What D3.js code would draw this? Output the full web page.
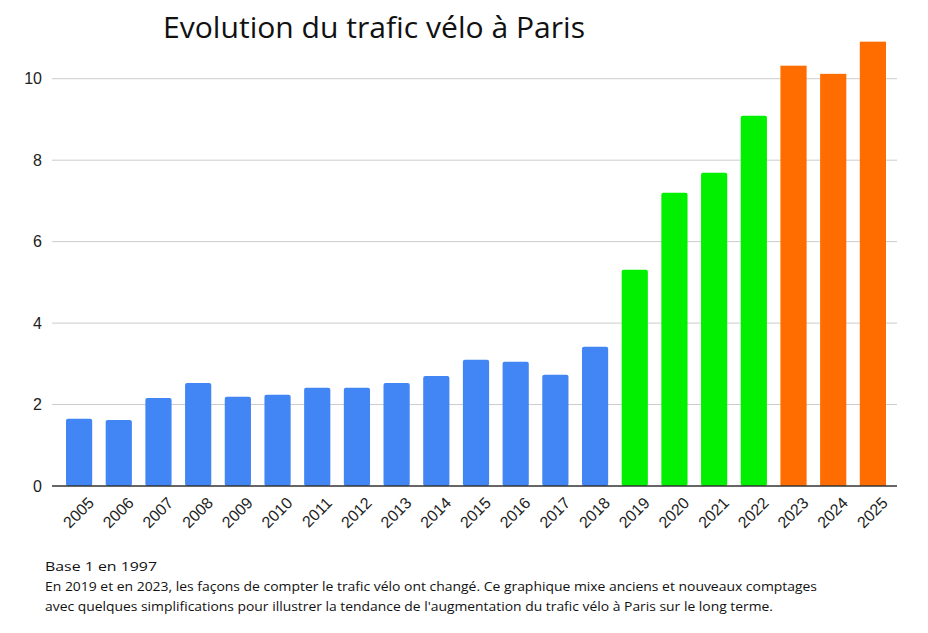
<!DOCTYPE html>
<html>
<head>
<meta charset="utf-8">
<script src="https://cdn.jsdelivr.net/npm/d3@7"></script>
<style>
    body { margin: 0; background: #fff; }
    svg { display: block; }
</style>
</head>
<body>
<svg id="chart"></svg>
<script>
const years = ["2005", "2006", "2007", "2008", "2009", "2010", "2011", "2012", "2013", "2014", "2015",
    "2016", "2017", "2018", "2019", "2020", "2021", "2022", "2023", "2024", "2025"];
const traffic = [1.65, 1.62, 2.16, 2.53, 2.19, 2.24, 2.41, 2.41, 2.53, 2.70, 3.10,
    3.05, 2.73, 3.42, 5.31, 7.20, 7.69, 9.09, 10.32, 10.12, 10.91];
// counting method: 0 = old, 1 = changed in 2019, 2 = changed in 2023
const method = [0, 0, 0, 0, 0, 0, 0, 0, 0, 0, 0, 0, 0, 0, 1, 1, 1, 1, 2, 2, 2];
const yTicks = [0, 2, 4, 6, 8, 10];
const colors = ["#4285f4", "#00f000", "#ff6d01"];
const title = "Evolution du trafic vélo à Paris";
const notes = [
    "Base 1 en 1997",
    "En 2019 et en 2023, les façons de compter le trafic vélo ont changé. Ce graphique mixe anciens et nouveaux comptages",
    "avec quelques simplifications pour illustrer la tendance de l'augmentation du trafic vélo à Paris sur le long terme."
];

const width = 928, height = 633;
const margin = { top: 38, right: 31, bottom: 147, left: 52 };

const svg = d3.select("#chart").attr("width", width).attr("height", height);

// bars sit a bit inside the grid area
const x = d3.scaleBand()
    .domain(years)
    .range([66, 886])
    .paddingInner(0.34)
    .paddingOuter(0);

const y = d3.scaleLinear()
    .domain([0, 11])
    .range([height - margin.bottom, margin.top]);

// gridlines
svg.append("g")
    .selectAll("line")
    .data(yTicks.filter(d => d > 0))
    .enter().append("line")
    .attr("x1", margin.left)
    .attr("x2", width - margin.right)
    .attr("y1", d => y(d))
    .attr("y2", d => y(d))
    .attr("stroke", "#cccccc")
    .attr("stroke-width", 1);

// y labels
svg.append("g")
    .selectAll("text")
    .data(yTicks)
    .enter().append("text")
    .attr("x", margin.left - 10)
    .attr("y", d => y(d))
    .attr("dy", "0.35em")
    .attr("text-anchor", "end")
    .style("font-family", "Liberation Sans, Arial, sans-serif")
    .style("font-size", "16px")
    .attr("fill", "#222")
    .text(d => d);

// bars
svg.append("g")
    .selectAll("rect")
    .data(years)
    .enter().append("rect")
    .attr("x", d => x(d))
    .attr("y", (d, i) => y(traffic[i]))
    .attr("width", x.bandwidth())
    .attr("height", (d, i) => y(0) - y(traffic[i]))
    .attr("rx", (d, i) => method[i] === 2 ? 0 : 2)
    .attr("fill", (d, i) => colors[method[i]]);

// baseline
svg.append("line")
    .attr("x1", margin.left)
    .attr("x2", width - margin.right)
    .attr("y1", y(0))
    .attr("y2", y(0))
    .attr("stroke", "#333")
    .attr("stroke-width", 1.5);

// x labels, rotated
svg.append("g")
    .selectAll("text")
    .data(years)
    .enter().append("text")
    .attr("transform", d => `translate(${x(d) + x.bandwidth() / 2 + 8},${y(0) + 10}) rotate(-45)`)
    .attr("text-anchor", "end")
    .attr("dy", "0.7em")
    .style("font-family", "Liberation Sans, Arial, sans-serif")
    .style("font-size", "16px")
    .attr("fill", "#222")
    .text(d => d);

// title
svg.append("text")
    .attr("x", 163)
    .attr("y", 38)
    .attr("textLength", 422)
    .attr("lengthAdjust", "spacingAndGlyphs")
    .style("font-family", "Open Sans, Noto Sans, sans-serif")
    .style("font-size", "29px")
    .attr("fill", "#111")
    .text(title);

// footnotes
svg.append("g")
    .selectAll("text")
    .data(notes)
    .enter().append("text")
    .attr("x", 45)
    .attr("y", (d, i) => 571 + i * 20)
    .attr("textLength", (d, i) => [112, 772, 728][i])
    .attr("lengthAdjust", "spacingAndGlyphs")
    .style("font-family", "Open Sans, Noto Sans, sans-serif")
    .style("font-size", "13.5px")
    .attr("fill", "#111")
    .text(d => d);
</script>
</body>
</html>
